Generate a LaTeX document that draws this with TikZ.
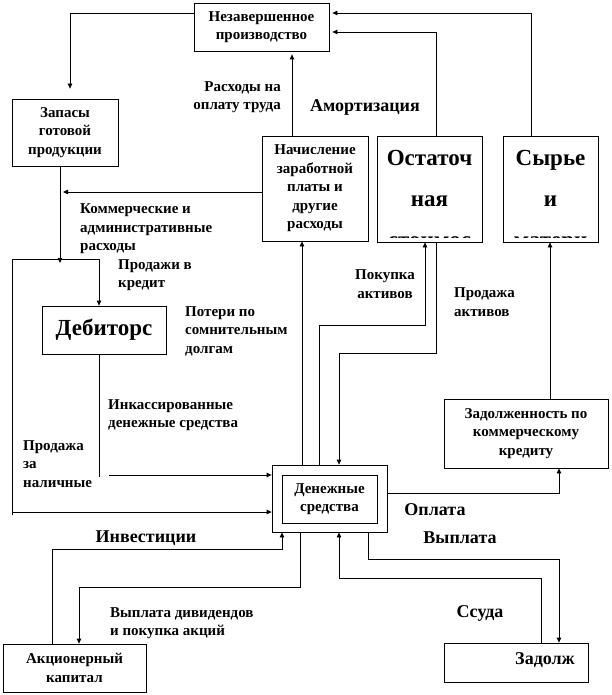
\documentclass[tikz,border=0pt]{standalone}
\usepackage{fontspec}
\setmainfont{Liberation Serif}
\usetikzlibrary{arrows.meta,calc}
\newcommand\fLab{\fontsize{15}{18.5}\selectfont\bfseries}
\newcommand\fMid{\fontsize{18}{20}\selectfont\bfseries}
\newcommand\fBig{\fontsize{23}{41}\selectfont\bfseries}
\begin{document}
\begin{tikzpicture}[x=1pt,y=-1pt,
  box/.style={draw, line width=0.8pt, inner sep=0pt, align=center, font=\fLab},
  lab/.style={inner sep=0pt, align=left, font=\fLab},
  midlab/.style={inner sep=0pt, font=\fMid},
  cliptext/.style={inner sep=0pt, align=center, font=\fBig, anchor=base},
  conn/.style={line width=0.8pt},
  arr/.style={conn, -{Triangle[length=5pt,width=4.5pt]}}]
\useasboundingbox (0,0) rectangle (611,695);
% boxes
\node[box, minimum width=135pt, minimum height=48pt] (nzp) at (261.5,27) {Незавершенное\\производство};
\node[box, minimum width=106pt, minimum height=67pt] (zap) at (65,132.5) {Запасы\\готовой\\продукции};
\node[box, minimum width=124pt, minimum height=48pt, font=\fBig] (deb) at (104,330) {Дебиторс};
\node[box, minimum width=106pt, minimum height=105pt] (nach) at (315,188.5) {Начисление\\заработной\\платы и\\другие\\расходы};
\node[box, minimum width=105pt, minimum height=106pt] (ost) at (429.5,189) {};
\node[box, minimum width=95pt, minimum height=106pt] (syr) at (550.5,189) {};
\node[box, minimum width=164pt, minimum height=69pt] (zad) at (526,433.5) {Задолженность по\\коммерческому\\кредиту};
\node[box, minimum width=115pt, minimum height=67pt] (den) at (329.5,498.5) {};
\node[box, minimum width=95pt, minimum height=48pt] (deni) at (329.5,499) {Денежные\\средства};
\node[box, minimum width=144pt, minimum height=39pt] (zdl) at (516,662.5) {};
\node[midlab] (zdlt) at (545,660) {Задолж};
\node[box, minimum width=143pt, minimum height=48pt] (akc) at (74.5,668) {Акционерный\\капитал};
% clipped texts
\begin{scope}
\clip (ost.north west) rectangle ($(ost.south east)+(0,-5)$);
\node[cliptext] (ostt) at (429.5,247.6) {Остаточ\\ная\\стоимос};
\end{scope}
\begin{scope}
\clip (syr.north west) rectangle ($(syr.south east)+(0,-5)$);
\node[cliptext] (syrt) at (550.5,247.6) {Сырье\\и\\матери};
\end{scope}
% connectors
\coordinate (L) at (12,259);
\draw[arr, shorten >=10pt] (nzp.west |- 0,13) -| (70,0 |- zap.north);
\draw[arr] (60,0 |- zap.south) -- (60,263);
\draw[arr] (L) -- (99,259) -- (99,0 |- deb.north);
\draw[conn] (L) -- (12,515);
\draw[arr] (12,512) -- (den.west |- 0,512);
\draw[conn] (99,0 |- deb.south) -- (99,477);
\draw[arr] (109,475) -- (den.west |- 0,475);
\draw[arr] (302,0 |- den.north) -- (302,0 |- nach.south);
\draw[arr] (319,0 |- den.north) -- (319,325) -- (425,325) -- (425,0 |- ost.south);
\draw[arr] (436,0 |- ost.south) -- (436,353) -- (339,353) -- (339,0 |- den.north);
\draw[arr, shorten >=3pt] (292,0 |- nach.north) -- (292,0 |- nzp.south);
\draw[arr] (nach.west |- 0,192) -- (63,192);
\draw[arr, shorten >=3pt] (436,0 |- ost.north) |- (nzp.east |- 0,32);
\draw[arr, shorten >=3pt] (531,0 |- syr.north) |- (nzp.east |- 0,13);
\draw[arr] (550,0 |- zad.north) -- (550,0 |- syr.south);
\draw[arr] (den.east |- 0,493) -| (559,0 |- zad.south);
\draw[arr] (368,0 |- den.south) -- (368,559) -- (559,559) -- (559,0 |- zdl.north);
\draw[arr] (541,0 |- zdl.north) -- (541,578) -- (339,578) -- (339,0 |- den.south);
\draw[arr] (52,0 |- akc.north) -- (52,549) -- (282,549) -- (282,0 |- den.south);
\draw[arr] (300,0 |- den.south) -- (300,587) -- (79,587) -- (79,0 |- akc.north);
% labels
\node[lab, align=right, anchor=east] (ras) at (281,97) {Расходы на\\оплату труда};
\node[midlab] (amo) at (365,107) {Амортизация};
\node[lab, anchor=west] (kom) at (80,229) {Коммерческие и\\административные\\расходы};
\node[lab, anchor=west] (prk) at (118,275) {Продажи в\\кредит};
\node[lab, anchor=west] (pot) at (185,331) {Потери по\\сомнительным\\долгам};
\node[lab, anchor=west] (ink) at (108,415) {Инкассированные\\денежные средства};
\node[lab, anchor=west] (pzn) at (23,464) {Продажа\\за\\наличные};
\node[lab, align=center] (pok) at (385,284) {Покупка\\активов};
\node[lab, anchor=west] (pra) at (454,302) {Продажа\\активов};
\node[midlab] (opl) at (435,510) {Оплата};
\node[midlab] (vyp) at (460,538) {Выплата};
\node[midlab] (ssu) at (480,613) {Ссуда};
\node[midlab] (inv) at (146,538) {Инвестиции};
\node[lab, anchor=west] (div) at (110,623) {Выплата дивидендов\\и покупка акций};
\end{tikzpicture}
\end{document}
